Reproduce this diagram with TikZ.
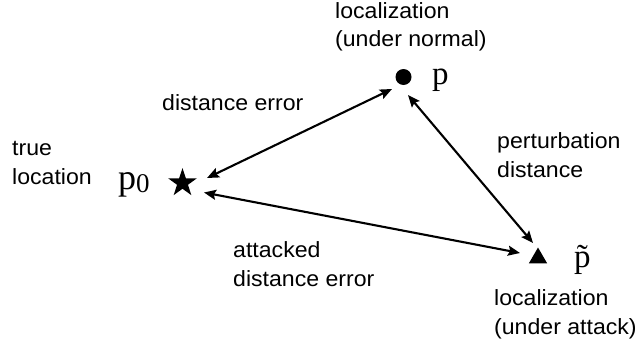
\documentclass[tikz,border=0pt]{standalone}
\usepackage{fontspec}
\setmainfont{Liberation Sans}[FakeStretch=1.05]
\newfontfamily\serifp{Liberation Serif}
\usetikzlibrary{arrows.meta,shapes.geometric}
\begin{document}
\begin{tikzpicture}[x=1pt,y=-1pt,
  lbl/.style={font=\fontsize{22}{28.5}\selectfont, align=left, inner sep=0pt, anchor=base west},
  sym/.style={font=\serifp\fontsize{33}{33}\selectfont, inner sep=0pt, anchor=base west},
  marker/.style={fill=black, draw=none, inner sep=0pt},
  arr/.style={line width=2.1pt, {Stealth[length=12pt,width=10pt,inset=2pt]}-{Stealth[length=12pt,width=10pt,inset=2pt]}}]
\useasboundingbox[fill=white] (0,0) rectangle (636,345);
% markers
\node[marker, star, star points=5, star point ratio=2.6, minimum size=30pt] (star) at (182.5,183) {};
\node[marker, circle, minimum size=16pt] (dot) at (403.5,77) {};
\node[marker, regular polygon, regular polygon sides=3, minimum size=21pt] (tri) at (538,258) {};
% labels (anchored at the baseline of the last line)
\node[lbl] (lnorm) at (335,47) {localization\\(under normal)};
\node[lbl] (ltrue) at (12,184) {true\\location};
\node[lbl] (lde) at (162,110) {distance error};
\node[lbl] (lpert) at (497,177) {perturbation\\distance};
\node[lbl] (latt) at (233,286) {attacked\\distance error};
\node[lbl] (lattk) at (494,334) {localization\\(under attack)};
% symbols
\node[sym, font=\serifp\fontsize{36}{36}\selectfont] (p0) at (118,189) {p\raisebox{-3pt}{\fontsize{27}{27}\selectfont 0}};
\node[sym] (p) at (432,84) {p};
\node[sym] (pt) at (574,267) {\ooalign{p\cr\hidewidth\char"02DC\hidewidth\cr}};
% connectors
\draw[arr] ([shift={(24.5,-5)}]star.center) -- ([shift={(-11.5,12)}]dot.center);
\draw[arr] ([shift={(4.5,18)}]dot.center) -- ([shift={(-5,-15)}]tri.center);
\draw[arr] ([shift={(21.5,9.5)}]star.center) -- ([shift={(-18,-5)}]tri.center);
\end{tikzpicture}
\end{document}
